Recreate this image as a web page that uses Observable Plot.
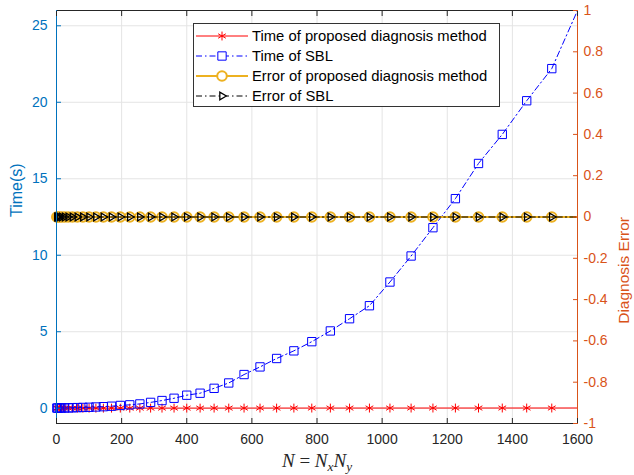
<!DOCTYPE html>
<html><head><meta charset="utf-8">
<script src="https://cdn.jsdelivr.net/npm/d3@7"></script>
<script src="https://cdn.jsdelivr.net/npm/@observablehq/plot@0.6"></script>
<style>
body{margin:0;background:#fff;}
#wrap{position:relative;width:634px;height:475px;font-family:"Liberation Sans",Arial,sans-serif;}
#legend{position:absolute;left:193px;top:23px;width:307px;height:84px;background:#fff;border:1px solid #333;box-sizing:border-box;font-size:14.8px;color:#000;}
.row{position:absolute;left:0;height:20px;display:flex;align-items:center;white-space:nowrap;}
.row svg{width:58px;height:20px;flex:none;}
#xlabel{position:absolute;left:0;width:634px;text-align:center;top:451px;font-family:"Liberation Serif","DejaVu Serif",serif;font-size:19px;line-height:19px;color:#262626;}
#xlabel sub{font-size:0.7em;line-height:0;vertical-align:-0.3em;}
</style></head>
<body><div id="wrap"></div>
<script>
// ---- data ----
const N = [1,4,9,16,25,36,49,64,81,100,121,144,169,196,225,256,289,324,361,400,441,484,529,576,625,676,729,784,841,900,961,1024,1089,1156,1225,1296,1369,1444,1521,1600];
const timeSBL = [0.01,0.01,0.01,0.02,0.02,0.02,0.03,0.04,0.05,0.06,0.08,0.10,0.13,0.18,0.22,0.28,0.38,0.50,0.65,0.85,0.98,1.30,1.65,2.20,2.70,3.25,3.75,4.35,5.05,5.85,6.70,8.25,9.95,11.8,13.7,16.0,17.9,20.1,22.2,26.0];
const timeProposed = [0.001,0.001,0.001,0.001,0.002,0.002,0.002,0.002,0.003,0.003,0.003,0.003,0.004,0.004,0.004,0.005,0.005,0.005,0.006,0.006,0.006,0.007,0.007,0.007,0.008,0.008,0.008,0.009,0.009,0.009,0.01,0.01,0.01,0.011,0.011,0.011,0.012,0.012,0.012,0.013];
const errorProposed = [0,0,0,0,0,0,0,0,0,0,0,0,0,0,0,0,0,0,0,0,0,0,0,0,0,0,0,0,0,0,0,0,0,0,0,0,0,0,0,0];
const errorSBL = [0,0,0,0,0,0,0,0,0,0,0,0,0,0,0,0,0,0,0,0,0,0,0,0,0,0,0,0,0,0,0,0,0,0,0,0,0,0,0,0];
const xTicks = [0,200,400,600,800,1000,1200,1400,1600];
const timeTicks = [0,5,10,15,20,25];
const errorTicks = [-1,-0.8,-0.6,-0.4,-0.2,0,0.2,0.4,0.6,0.8,1];
const errorTickLabels = ["-1","-0.8","-0.6","-0.4","-0.2","0","0.2","0.4","0.6","0.8","1"];
const seriesNames = ["Time of proposed diagnosis method","Time of SBL","Error of proposed diagnosis method","Error of SBL"];
const timeDomain = [-1, 26];
const errorDomain = [-1, 1];

// ---- build ----
const BLUE_AX = "#0072BD", ORANGE_AX = "#D95319", DARK = "#262626", GRID = "#e4e4e4";
const RED = "#ff0000", BLUE = "#0000ff", GOLD = "#EDB120", BLACK = "#000000";
const DASHDOT = "6,3,1.5,3";
const toT = e => timeDomain[0] + (e - errorDomain[0]) / (errorDomain[1] - errorDomain[0]) * (timeDomain[1] - timeDomain[0]);

const rows = N.map((n, i) => ({N: n, tProp: timeProposed[i], tSBL: timeSBL[i], eProp: toT(errorProposed[i]), eSBL: toT(errorSBL[i])}));
const mrows = rows.filter(d => d.N < xTicks[xTicks.length - 1]);

const chart = Plot.plot({
  width: 634, height: 475,
  marginLeft: 56, marginRight: 57, marginTop: 10, marginBottom: 52,
  x: {domain: [xTicks[0], xTicks[xTicks.length - 1]]},
  y: {domain: timeDomain},
  style: {fontFamily: "'Liberation Sans', Arial, sans-serif", fontSize: "14px", background: "white", overflow: "visible"},
  marks: [
    Plot.gridX(xTicks.slice(1, -1), {stroke: GRID, strokeOpacity: 1}),
    Plot.gridY(timeTicks, {stroke: GRID, strokeOpacity: 1}),
    Plot.line(rows, {x: "N", y: "tProp", stroke: RED, strokeWidth: 1, clip: true}),
    Plot.dot(mrows, {x: "N", y: "tProp", symbol: "asterisk", r: 4.2, stroke: RED, strokeWidth: 1}),
    Plot.line(rows, {x: "N", y: "tSBL", stroke: BLUE, strokeWidth: 1, strokeDasharray: DASHDOT, clip: true}),
    Plot.dot(mrows, {x: "N", y: "tSBL", symbol: "square", r: 4.7, stroke: BLUE, fill: "none", strokeWidth: 1}),
    Plot.line(rows, {x: "N", y: "eProp", stroke: GOLD, strokeWidth: 2, clip: true}),
    Plot.dot(mrows, {x: "N", y: "eProp", symbol: "circle", r: 4.8, stroke: GOLD, fill: "none", strokeWidth: 2}),
    Plot.line(rows, {x: "N", y: "eSBL", stroke: BLACK, strokeWidth: 1, strokeDasharray: DASHDOT, clip: true}),
    Plot.dot(mrows, {x: "N", y: "eSBL", symbol: "triangle", rotate: 90, r: 2.8, stroke: BLACK, fill: "none", strokeWidth: 1.3}),
    Plot.ruleY([timeDomain[0]], {stroke: DARK}),
    Plot.ruleY([timeDomain[1]], {stroke: DARK}),
    Plot.ruleX([xTicks[0]], {stroke: BLUE_AX}),
    Plot.ruleX([xTicks[xTicks.length - 1]], {stroke: ORANGE_AX}),
    Plot.axisX({ticks: xTicks, anchor: "bottom", tickSize: -5, tickPadding: 16, label: null, stroke: DARK, fill: DARK, fontSize: 14, tickFormat: d => String(d)}),
    Plot.axisX({ticks: xTicks, anchor: "top", tickSize: -5, tickPadding: 10, label: null, stroke: DARK, tickFormat: () => ""}),
    Plot.axisY({ticks: timeTicks, anchor: "left", tickSize: -5, tickPadding: 14, label: null, stroke: BLUE_AX, fill: BLUE_AX, fontSize: 14, tickFormat: d => String(d)}),
    Plot.axisY({ticks: errorTicks.map(toT), anchor: "right", tickSize: -5, tickPadding: 11, label: null, stroke: ORANGE_AX, fill: ORANGE_AX, fontSize: 14,
      tickFormat: (d, i) => errorTickLabels[i]}),
    Plot.text(["Time(s)"], {frameAnchor: "left", dx: -40, rotate: -90, fontSize: 16, fill: BLUE_AX}),
    Plot.text(["Diagnosis Error"], {frameAnchor: "right", dx: 47, rotate: -90, fontSize: 15.5, fill: ORANGE_AX})
  ]
});

const wrap = document.getElementById("wrap");
wrap.appendChild(chart);

// x label (math)
const xl = document.createElement("div");
xl.id = "xlabel";
xl.innerHTML = '<i>N</i> = <i>N</i><sub><i>x</i></sub><i>N</i><sub><i>y</i></sub>';
wrap.appendChild(xl);

// legend
const legend = document.createElement("div");
legend.id = "legend";
wrap.appendChild(legend);
const legendStyles = [
  {stroke: RED, width: 1, dash: null, sym: d3.symbolAsterisk, r: 4.2, sw: 1, rot: 0},
  {stroke: BLUE, width: 1, dash: DASHDOT, sym: d3.symbolSquare, r: 4.7, sw: 1, rot: 0},
  {stroke: GOLD, width: 2, dash: null, sym: d3.symbolCircle, r: 4.8, sw: 2, rot: 0},
  {stroke: BLACK, width: 1, dash: DASHDOT, sym: d3.symbolTriangle, r: 2.8, sw: 1.3, rot: 90}
];
seriesNames.forEach((name, i) => {
  const s = legendStyles[i];
  const row = document.createElement("div");
  row.className = "row";
  row.style.top = (2 + i * 20) + "px";
  const path = d3.symbol(s.sym, Math.PI * s.r * s.r)();
  row.innerHTML = `<svg viewBox="0 0 58 20"><line x1="2" x2="54" y1="10" y2="10" stroke="${s.stroke}" stroke-width="${s.width}" ${s.dash ? `stroke-dasharray="${s.dash}"` : ""}/><path d="${path}" transform="translate(28,10) rotate(${s.rot})" fill="${s.sym === d3.symbolAsterisk ? "none" : "white"}" stroke="${s.stroke}" stroke-width="${s.sw}"/></svg><span>${name}</span>`;
  legend.appendChild(row);
});
</script>
</body></html>
